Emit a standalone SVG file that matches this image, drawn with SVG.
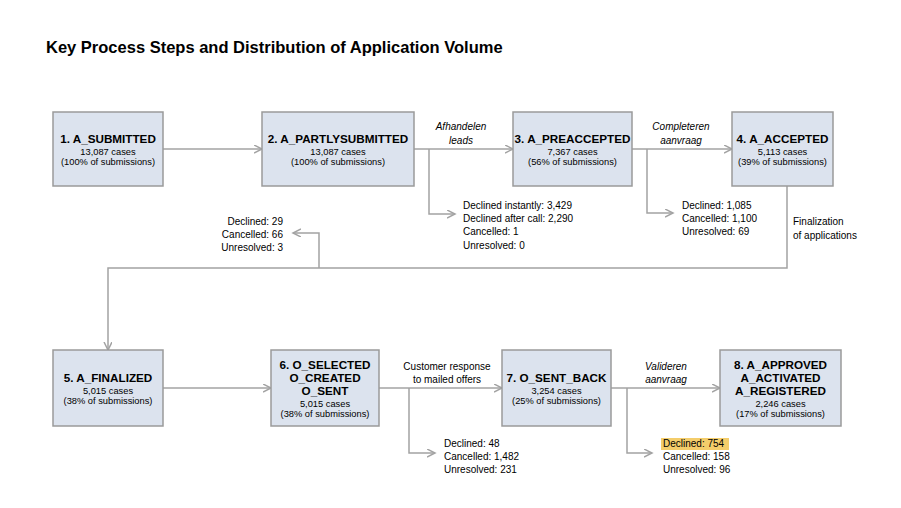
<svg xmlns="http://www.w3.org/2000/svg" width="901" height="508" viewBox="0 0 901 508">
<style>
text{font-family:"Liberation Sans",Arial,sans-serif;fill:#000}
.box{fill:#dce3ee;stroke:#9a9a9a;stroke-width:1.5}
.t{font-size:11.7px;font-weight:bold;text-anchor:middle}
.s{font-size:9.3px;text-anchor:middle}
.n{font-size:10px}
.r{font-size:10px;text-anchor:end}
.l{font-size:10px;text-anchor:middle}
.i{font-size:10px;text-anchor:middle;font-style:italic}
.c{fill:none;stroke:#a3a3a3;stroke-width:1.5}
</style>
<defs>
<marker id="a" markerWidth="10" markerHeight="10" refX="8" refY="4" orient="auto" markerUnits="userSpaceOnUse">
<path d="M0,0 L8,4 L0,8" fill="none" stroke="#a3a3a3" stroke-width="1.5"/>
</marker>
</defs>
<rect width="901" height="508" fill="#fff"/>
<text x="46" y="53" style="font-size:16.5px;font-weight:bold">Key Process Steps and Distribution of Application Volume</text>

<g id="connectors">
<path class="c" d="M163,149 H262" marker-end="url(#a)"/>
<path class="c" d="M414,149 H513" marker-end="url(#a)"/>
<path class="c" d="M429,149 V214 H455" marker-end="url(#a)"/>
<path class="c" d="M632,149 H732" marker-end="url(#a)"/>
<path class="c" d="M647,149 V213 H673" marker-end="url(#a)"/>
<path class="c" d="M787,186 V268 H108 V350" marker-end="url(#a)"/>
<path class="c" d="M319,268 V233 H293" marker-end="url(#a)"/>
<path class="c" d="M163,388 H271" marker-end="url(#a)"/>
<path class="c" d="M379,388 H502" marker-end="url(#a)"/>
<path class="c" d="M409,388 V453 H435" marker-end="url(#a)"/>
<path class="c" d="M611,388 H720" marker-end="url(#a)"/>
<path class="c" d="M627,388 V453 H652" marker-end="url(#a)"/>
<text class="i" x="461" y="130">Afhandelen</text>
<text class="i" x="461" y="144">leads</text>
<text class="i" x="681" y="130">Completeren</text>
<text class="i" x="681" y="144">aanvraag</text>
<text class="l" x="447" y="370">Customer response</text>
<text class="l" x="447" y="383">to mailed offers</text>
<text class="i" x="666" y="370">Valideren</text>
<text class="i" x="666" y="383">aanvraag</text>
<text class="n" x="793" y="225">Finalization</text>
<text class="n" x="793" y="239">of applications</text>
</g>

<g id="out2">
<text class="n" x="463" y="209">Declined instantly: 3,429</text>
<text class="n" x="463" y="222">Declined after call: 2,290</text>
<text class="n" x="463" y="235">Cancelled: 1</text>
<text class="n" x="463" y="249">Unresolved: 0</text>
</g>
<g id="out3">
<text class="n" x="682" y="209">Declined: 1,085</text>
<text class="n" x="682" y="222">Cancelled: 1,100</text>
<text class="n" x="682" y="235">Unresolved: 69</text>
</g>
<g id="out4">
<text class="r" x="283" y="225">Declined: 29</text>
<text class="r" x="283" y="238">Cancelled: 66</text>
<text class="r" x="283" y="251">Unresolved: 3</text>
</g>
<g id="out6">
<text class="n" x="444" y="447">Declined: 48</text>
<text class="n" x="444" y="460">Cancelled: 1,482</text>
<text class="n" x="444" y="473">Unresolved: 231</text>
</g>
<g id="out7">
<rect x="661" y="438" width="68" height="12" fill="#f4cd6b"/>
<text class="n" x="663" y="447">Declined: 754</text>
<text class="n" x="663" y="460">Cancelled: 158</text>
<text class="n" x="663" y="473">Unresolved: 96</text>
</g>

<g id="n1">
<rect class="box" x="53" y="112" width="110" height="74"/>
<text class="t" x="108" y="143">1. A_SUBMITTED</text>
<text class="s" x="108" y="155">13,087 cases</text>
<text class="s" x="108" y="165">(100% of submissions)</text>
</g>
<g id="n2">
<rect class="box" x="262" y="112" width="152" height="74"/>
<text class="t" x="338" y="143">2. A_PARTLYSUBMITTED</text>
<text class="s" x="338" y="155">13,087 cases</text>
<text class="s" x="338" y="165">(100% of submissions)</text>
</g>
<g id="n3">
<rect class="box" x="513" y="112" width="119" height="74"/>
<text class="t" x="572.5" y="143">3. A_PREACCEPTED</text>
<text class="s" x="572.5" y="155">7,367 cases</text>
<text class="s" x="572.5" y="165">(56% of submissions)</text>
</g>
<g id="n4">
<rect class="box" x="732" y="112" width="101" height="74"/>
<text class="t" x="782.5" y="143">4. A_ACCEPTED</text>
<text class="s" x="782.5" y="155">5,113 cases</text>
<text class="s" x="782.5" y="165">(39% of submissions)</text>
</g>
<g id="n5">
<rect class="box" x="53" y="350" width="110" height="76"/>
<text class="t" x="108" y="382">5. A_FINALIZED</text>
<text class="s" x="108" y="394">5,015 cases</text>
<text class="s" x="108" y="404">(38% of submissions)</text>
</g>
<g id="n6">
<rect class="box" x="271" y="350" width="108" height="76"/>
<text class="t" x="325" y="369">6. O_SELECTED</text>
<text class="t" x="325" y="382">O_CREATED</text>
<text class="t" x="325" y="395">O_SENT</text>
<text class="s" x="325" y="407">5,015 cases</text>
<text class="s" x="325" y="417">(38% of submissions)</text>
</g>
<g id="n7">
<rect class="box" x="502" y="350" width="109" height="76"/>
<text class="t" x="556.5" y="382">7. O_SENT_BACK</text>
<text class="s" x="556.5" y="394">3,254 cases</text>
<text class="s" x="556.5" y="404">(25% of submissions)</text>
</g>
<g id="n8">
<rect class="box" x="720" y="350" width="121" height="76"/>
<text class="t" x="780.5" y="369">8. A_APPROVED</text>
<text class="t" x="780.5" y="382">A_ACTIVATED</text>
<text class="t" x="780.5" y="395">A_REGISTERED</text>
<text class="s" x="780.5" y="407">2,246 cases</text>
<text class="s" x="780.5" y="417">(17% of submissions)</text>
</g>
</svg>
